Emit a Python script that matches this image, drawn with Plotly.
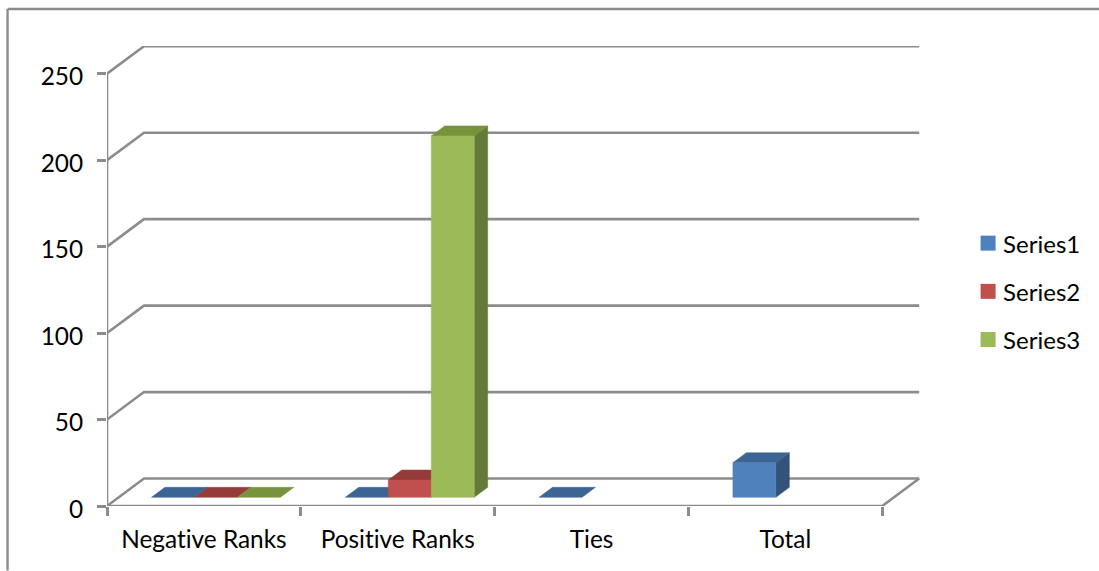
import plotly.graph_objects as go

categories = ["Negative Ranks", "Positive Ranks", "Ties", "Total"]
series_names = ["Series1", "Series2", "Series3"]
series1 = [0, 0, 0, 20]
series2 = [0, 10, None, None]
series3 = [0, 209, None, None]
all_series = [series1, series2, series3]
y_ticks = [0, 50, 100, 150, 200, 250]

front_colors = ["#4F81BD", "#C0504D", "#9BBB59"]
top_colors = ["#3C6494", "#953C3A", "#77933C"]
side_colors = ["#335378", "#7B3130", "#647A38"]
GRID = "#8C8C8C"
FONT = "Lato"
TEXT = "#000000"

PX_X = 193.9   # px per category
PX_Y = 1.732   # px per value unit
WALL_DX = 37 / PX_X
WALL_DY = 27.5 / PX_Y
BAR_W = 43 / PX_X
GROUP_LEFT = (151 - 106.5 - 11.7) / PX_X
F_FRONT, F_BACK = 8.7 / 27.5, 18.7 / 27.5

def proj(x, v, f):
    return x + f * WALL_DX, v + f * WALL_DY

fig = go.Figure()

# walls, floor, gridlines
wx, wy = [], []
for v in y_ticks:
    wx += [0, WALL_DX, 4 + WALL_DX, None]
    wy += [v, v + WALL_DY, v + WALL_DY, None]
wx += [0, 4, 4 + WALL_DX, None, 0, 0]
wy += [0, 0, WALL_DY, None, 0, y_ticks[-1]]
fig.add_trace(go.Scatter(x=wx, y=wy, mode="lines", line=dict(color=GRID, width=2.6),
                         showlegend=False, hoverinfo="skip", cliponaxis=False))

def face(points, color):
    xs = [p[0] for p in points] + [points[0][0]]
    ys = [p[1] for p in points] + [points[0][1]]
    fig.add_trace(go.Scatter(x=xs, y=ys, mode="lines", fill="toself", fillcolor=color,
                             line=dict(color=color, width=0.5), showlegend=False,
                             hoverinfo="skip", cliponaxis=False))

for s, values in enumerate(all_series):
    for c, val in enumerate(values):
        if val is None:
            continue
        x0 = c + GROUP_LEFT + s * BAR_W
        x1 = x0 + BAR_W
        if val > 0:
            face([proj(x1, 0, F_FRONT), proj(x1, 0, F_BACK), proj(x1, val, F_BACK), proj(x1, val, F_FRONT)], side_colors[s])
        face([proj(x0, val, F_FRONT), proj(x1, val, F_FRONT), proj(x1, val, F_BACK), proj(x0, val, F_BACK)], top_colors[s])
        if val > 0:
            face([proj(x0, 0, F_FRONT), proj(x1, 0, F_FRONT), proj(x1, val, F_FRONT), proj(x0, val, F_FRONT)], front_colors[s])

# legend entries
for name, col in zip(series_names, front_colors):
    fig.add_trace(go.Scatter(x=[None], y=[None], mode="markers", name=name, legendgroup=name,
                             marker=dict(symbol="square", size=15, color=col)))

W, H = 1099, 571
L, R_PX, B_PX = 106.5, 106.5 + 4.2 * PX_X, 506.4
T_PX = B_PX - 266 * PX_Y
PW, PH = R_PX - L, B_PX - T_PX

def px(x): return (x - L) / PW
def py(y): return (B_PX - y) / PH

fig.update_layout(
    width=W, height=H, paper_bgcolor="white", plot_bgcolor="white",
    margin=dict(l=L, r=W - R_PX, t=T_PX, b=H - B_PX, pad=0, autoexpand=False),
    font=dict(family=FONT, size=24.4, color=TEXT),
    showlegend=True,
    legend=dict(x=px(968), y=py(221), xanchor="left", yanchor="top", tracegroupgap=14,
                itemwidth=30, bgcolor="rgba(0,0,0,0)", font=dict(family=FONT, size=24, color=TEXT),
                itemclick=False, itemdoubleclick=False),
    xaxis=dict(range=[0, 4.2], showgrid=False, zeroline=False, showline=False,
               tickmode="array", tickvals=[0.5, 1.5, 2.5, 3.5], ticktext=categories,
               ticks="outside", ticklen=12, tickcolor="rgba(0,0,0,0)",
               minor=dict(tickmode="array", tickvals=[0, 1, 2, 3, 4], ticks="outside",
                          ticklen=9, tickcolor=GRID, tickwidth=2.6, showgrid=False)),
    yaxis=dict(range=[0, 266], showgrid=False, zeroline=False, showline=False,
               tickmode="array", tickvals=y_ticks, ticks="outside", ticklen=9,
               tickcolor=GRID, tickwidth=2.6, ticklabelstandoff=9, ticklabelshift=3),
    shapes=[
        dict(type="line", xref="paper", yref="paper", x0=px(7), x1=px(7), y0=py(8.7), y1=py(571), line=dict(color=GRID, width=2.4)),
        dict(type="line", xref="paper", yref="paper", x0=px(7), x1=px(1099), y0=py(8.7), y1=py(8.7), line=dict(color=GRID, width=2.4)),
    ],
)

post = ("document.body.style.margin='0';document.body.style.overflow='hidden';"
        "document.querySelectorAll('svg text').forEach(function(t){t.style.fontVariantLigatures='none';"
        "t.style.fontFeatureSettings='\"liga\" 0, \"clig\" 0';});"
        "document.querySelectorAll('.legendtext').forEach(function(t){t.setAttribute('x','35');});")
fig.write_html("out.html", post_script=post, config={"displayModeBar": False})
